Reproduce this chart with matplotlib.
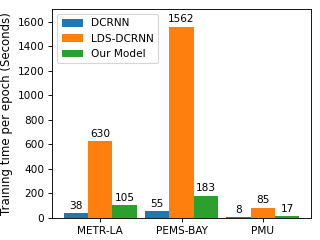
import matplotlib
matplotlib.use('Agg')
import matplotlib.pyplot as plt
import numpy as np

datasets = ['METR-LA', 'PEMS-BAY', 'PMU']
dcrnn = [38, 55, 8]
lds_dcrnn = [630, 1562, 85]
our_model = [105, 183, 17]

plt.rcParams['font.size'] = 9.5

fig, ax = plt.subplots(figsize=(4, 3), dpi=80)

x = np.arange(len(datasets))
width = 0.3

series = [('DCRNN', dcrnn), ('LDS-DCRNN', lds_dcrnn), ('Our Model', our_model)]
for i, (name, vals) in enumerate(series):
    bars = ax.bar(x + (i - 1) * width, vals, width, label=name)
    for b, v in zip(bars, vals):
        ax.annotate(str(v), (b.get_x() + b.get_width() / 2, b.get_height()),
                    xytext=(0, 2), textcoords='offset points',
                    ha='center', va='bottom')

ax.set_xticks(x)
ax.set_xticklabels(datasets)
ax.set_ylim(0, 1705)
ax.set_yticks(np.arange(0, 1601, 200))
ax.set_ylabel('Training time per epoch (Seconds)', fontsize=10.6)
ax.legend(loc='upper left')

fig.subplots_adjust(left=0.1625, right=0.972, top=0.9625, bottom=0.0917)
fig.savefig('out.png')
